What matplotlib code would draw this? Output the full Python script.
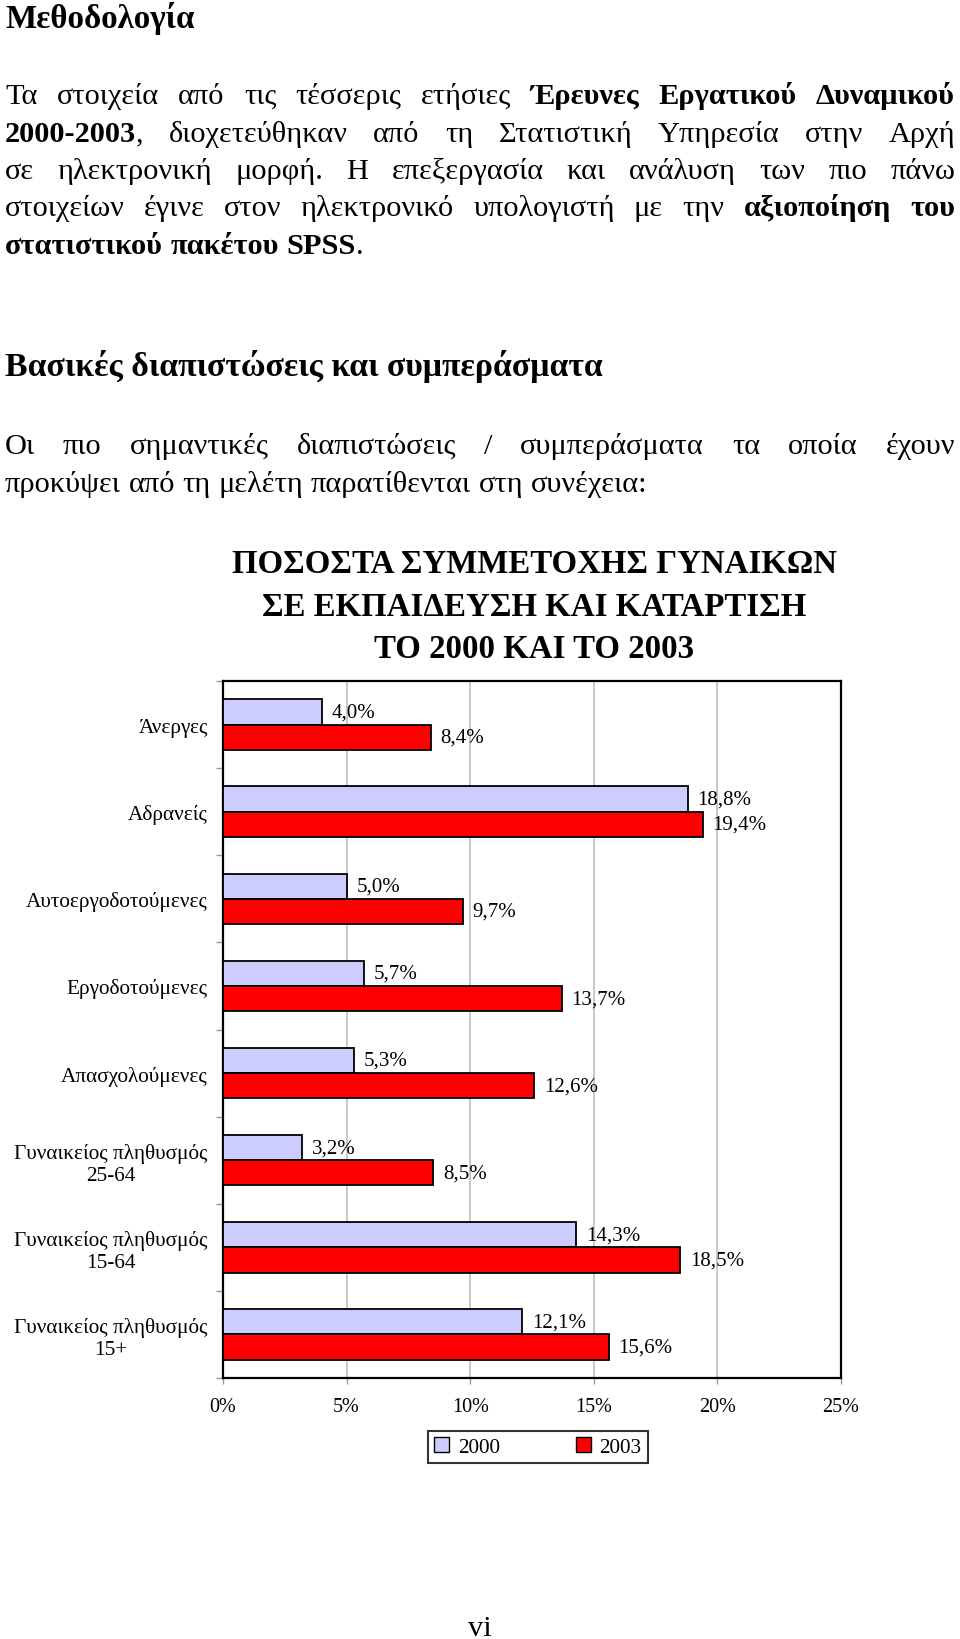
import matplotlib
matplotlib.use('Agg')
import matplotlib.pyplot as plt
from matplotlib.patches import Patch
import numpy as np

plt.rcParams['font.family'] = ['Liberation Serif', 'DejaVu Serif']

###---chart data---###
categories = ['Άνεργες', 'Αδρανείς', 'Αυτοεργοδοτούμενες', 'Εργοδοτούμενες',
              'Απασχολούμενες', 'Γυναικείος πληθυσμός\n25-64',
              'Γυναικείος πληθυσμός\n15-64', 'Γυναικείος πληθυσμός\n15+']
vals_2000 = [4.0, 18.8, 5.0, 5.7, 5.3, 3.2, 14.3, 12.1]
vals_2003 = [8.4, 19.4, 9.7, 13.7, 12.6, 8.5, 18.5, 15.6]
series_names = ['2000', '2003']
xticks = [0, 5, 10, 15, 20, 25]
chart_title = 'ΠΟΣΟΣΤΑ ΣΥΜΜΕΤΟΧΗΣ ΓΥΝΑΙΚΩΝ\nΣΕ ΕΚΠΑΙΔΕΥΣΗ ΚΑΙ ΚΑΤΑΡΤΙΣΗ\nΤΟ 2000 ΚΑΙ ΤΟ 2003'

###---page text, ** toggles bold---###
para1 = ['Τα στοιχεία από τις τέσσερις ετήσιες **Έρευνες Εργατικού Δυναμικού',
         '2000-2003**, διοχετεύθηκαν από τη Στατιστική Υπηρεσία στην Αρχή',
         'σε ηλεκτρονική μορφή. Η επεξεργασία και ανάλυση των πιο πάνω',
         'στοιχείων έγινε στον ηλεκτρονικό υπολογιστή με την **αξιοποίηση του',
         'στατιστικού πακέτου SPSS**.']
para2 = ['Οι πιο σημαντικές διαπιστώσεις / συμπεράσματα τα οποία έχουν',
         'προκύψει από τη μελέτη παρατίθενται στη συνέχεια:']

W, H = 960, 1640
fig = plt.figure(figsize=(W / 100, H / 100), dpi=100)
renderer = fig.canvas.get_renderer()
BODY = 21.9
HEAD = 23.8
LAB = 15


def parse(line, bold):
    # split a line into words, each word a list of (text, bold) pieces
    words, cur, buf = [], [], ''
    i = 0
    while i < len(line):
        if line.startswith('**', i):
            if buf:
                cur.append((buf, bold))
                buf = ''
            bold = not bold
            i += 2
            continue
        ch = line[i]
        if ch == ' ':
            if buf:
                cur.append((buf, bold))
                buf = ''
            if cur:
                words.append(cur)
                cur = []
        else:
            buf += ch
        i += 1
    if buf:
        cur.append((buf, bold))
    if cur:
        words.append(cur)
    return words, bold


def text_width(s, **kw):
    t = fig.text(0, 0, s, fontsize=BODY, **kw)
    w = t.get_window_extent(renderer).width
    t.remove()
    return w


def paragraph(lines, y0, step, x0=5, x1=955):
    bold = False
    space = text_width('a a') - text_width('aa')
    for n, line in enumerate(lines):
        words, bold = parse(line, bold)
        y = 1 - (y0 + n * step) / H
        texts, widths = [], []
        for w in words:
            pieces, wd = [], 0
            for txt, b in w:
                t = fig.text(0, y, txt, fontsize=BODY, va='baseline',
                             fontweight='bold' if b else 'normal')
                pw = t.get_window_extent(renderer).width
                pieces.append((t, pw))
                wd += pw
            texts.append(pieces)
            widths.append(wd)
        if n == len(lines) - 1 or len(words) < 2:
            gap = space
        else:
            gap = (x1 - x0 - sum(widths)) / (len(words) - 1)
        x = x0
        for pieces, wd in zip(texts, widths):
            px = x
            for t, pw in pieces:
                t.set_x(px / W)
                px += pw
            x += wd + gap


fig.text(5 / W, 1 - 28 / H, 'Μεθοδολογία', fontsize=HEAD, fontweight='bold', va='baseline')
paragraph(para1, 104, 37.5)
fig.text(5 / W, 1 - 376 / H, 'Βασικές διαπιστώσεις και συμπεράσματα', fontsize=24.3,
         fontweight='bold', va='baseline')
paragraph(para2, 454, 37.5)

fig.text(534 / W, 1 - 607 / H, chart_title, fontsize=23.7, fontweight='bold',
         ha='center', va='center', linespacing=1.46)

###---bar chart---###
ax = fig.add_axes([223 / W, 1 - 1379 / H, 618 / W, 697 / H])
y = np.arange(len(categories))
h = 0.29
c2000, c2003 = '#CCCCFF', '#FF0000'
b1 = ax.barh(y - h / 2, vals_2000, height=h, color=c2000, edgecolor='black', linewidth=1.3, zorder=3)
b2 = ax.barh(y + h / 2, vals_2003, height=h, color=c2003, edgecolor='black', linewidth=1.3, zorder=3)
for bars, vals in ((b1, vals_2000), (b2, vals_2003)):
    for bar, v in zip(bars, vals):
        ax.annotate(f'{v:.1f}%'.replace('.', ','),
                    (v, bar.get_y() + bar.get_height() / 2),
                    xytext=(7, 0), textcoords='offset points',
                    va='center', ha='left', fontsize=LAB)

ax.set_xlim(0, 25)
ax.set_ylim(len(categories) - 0.5, -0.5)
ax.set_xticks(xticks)
ax.set_xticklabels([f'{t}%' for t in xticks], fontsize=14.5)
ax.set_yticks(y)
ax.set_yticklabels(categories, fontsize=15.3)
for lab in ax.get_yticklabels():
    lab.set_multialignment('center')
ax.set_yticks(np.arange(-0.5, len(categories)), minor=True)
ax.tick_params(axis='y', which='major', length=0, pad=11)
ax.tick_params(axis='y', which='minor', length=5, width=1, color='#999999')
ax.tick_params(axis='x', length=4, width=1, color='#999999', pad=10)
ax.grid(axis='x', color='#BFBFBF', linewidth=1.2, zorder=0)
for s in ax.spines.values():
    s.set_linewidth(1.6)
    s.set_color('black')

handles = [Patch(facecolor=c2000, edgecolor='black'), Patch(facecolor=c2003, edgecolor='black')]
leg = fig.legend(handles, series_names, loc='center', bbox_to_anchor=(538 / W, 1 - 1448 / H),
                 ncol=2, frameon=True, fancybox=False, edgecolor='black', fontsize=15.3,
                 handlelength=0.7, handleheight=0.7, handletextpad=0.4, columnspacing=3.6,
                 borderpad=0.3)
leg.get_frame().set_linewidth(1.5)

fig.text(480 / W, 1 - 1636 / H, 'vi', fontsize=BODY, ha='center', va='baseline')

plt.savefig('out.png', dpi=100)
